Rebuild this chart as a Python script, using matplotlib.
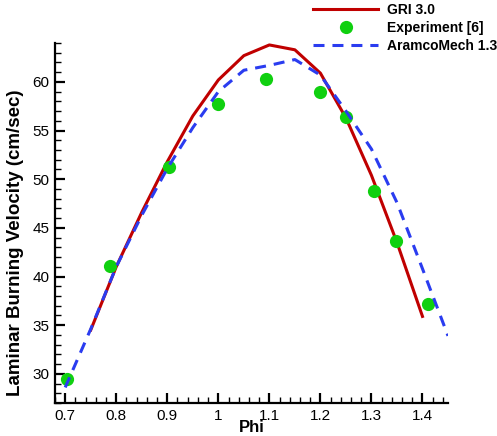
import numpy as np
import matplotlib
matplotlib.use('Agg')
import matplotlib.pyplot as plt
from matplotlib.ticker import MultipleLocator

plt.rcParams['font.family'] = ['Liberation Sans', 'DejaVu Sans']

# GRI 3.0 mechanism
phi_gri = [0.75, 0.80, 0.85, 0.90, 0.95, 1.00, 1.05, 1.10, 1.15, 1.20, 1.25, 1.30, 1.35, 1.40]
sl_gri = [34.5, 41.0, 46.6, 51.8, 56.5, 60.2, 62.7, 63.8, 63.3, 60.9, 56.3, 50.4, 43.5, 35.9]

# experiment [6]
phi_exp = [0.703, 0.787, 0.904, 0.999, 1.093, 1.199, 1.251, 1.305, 1.348, 1.410]
sl_exp = [29.5, 41.1, 51.3, 57.7, 60.25, 58.95, 56.4, 48.8, 43.6, 37.2]

# AramcoMech 1.3
phi_aramco = [0.70, 0.75, 0.80, 0.85, 0.90, 0.95, 1.00, 1.05, 1.10, 1.15, 1.20, 1.25, 1.30, 1.35, 1.40, 1.45]
sl_aramco = [28.6, 34.6, 41.0, 46.3, 51.1, 55.3, 59.0, 61.2, 61.7, 62.3, 60.7, 57.0, 53.1, 47.6, 40.8, 33.9]

fig = plt.figure(figsize=(4.97, 4.36), dpi=100, facecolor='w')
ax = fig.add_axes([55/497, 1-403/436, (448-55)/497, (403-43)/436])

l1, = ax.plot(phi_gri, sl_gri, color='#c00000', lw=2.2, solid_joinstyle='round')
l2, = ax.plot(phi_exp, sl_exp, 'o', color='#10d010', markersize=9.5, markeredgewidth=0)
l3, = ax.plot(phi_aramco, sl_aramco, color='#2a3cf0', lw=2.2, dashes=(3.6, 2.6))

ax.set_xlim(0.68, 1.45)
ax.set_ylim(27, 64)
ax.xaxis.set_minor_locator(MultipleLocator(0.02))
ax.yaxis.set_minor_locator(MultipleLocator(1))
ax.set_xticks([0.7, 0.8, 0.9, 1.0, 1.1, 1.2, 1.3, 1.4])
ax.set_xticklabels(['0.7', '0.8', '0.9', '1', '1.1', '1.2', '1.3', '1.4'])
ax.set_yticks([30, 35, 40, 45, 50, 55, 60])

for s in ['top', 'right']:
    ax.spines[s].set_visible(False)
for s in ['left', 'bottom']:
    ax.spines[s].set_linewidth(1.6)
ax.tick_params(which='major', direction='in', length=7.5, width=1.6, labelsize=11, pad=4)
ax.tick_params(which='minor', direction='in', length=4, width=1.0)

ax.set_xlabel('Phi', fontsize=12, fontweight='bold', va='center')
ax.set_ylabel('Laminar Burning Velocity (cm/sec)', fontsize=13.5, fontweight='bold')
ax.xaxis.set_label_coords(0.5, -(427.5 - 403) / 360)
ax.yaxis.set_label_coords(-0.078, 0.445)

fig.legend([l1, l2, l3], ['GRI 3.0', 'Experiment [6]', 'AramcoMech 1.3'],
           loc='upper left', bbox_to_anchor=(313/497, 1-3/436), frameon=False,
           prop={'weight': 'bold', 'size': 10}, handlelength=4.7, handletextpad=0.65,
           labelspacing=0.3, borderpad=0, borderaxespad=0, numpoints=1)

plt.savefig('out.png', dpi=100)
